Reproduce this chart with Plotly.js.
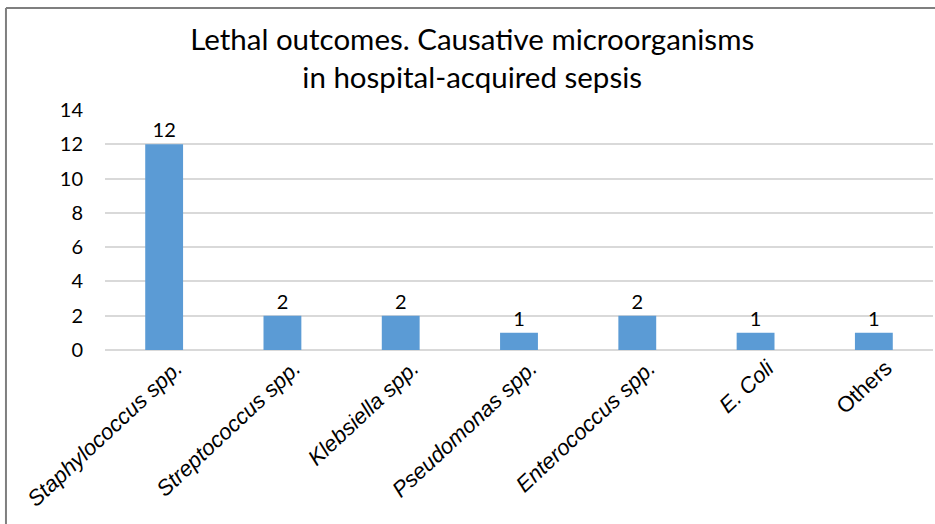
<!DOCTYPE html>
<html>
<head>
<meta charset="utf-8">
<script src="https://cdn.plot.ly/plotly-3.0.1.min.js"></script>
<style>html,body{margin:0;padding:0;background:#fff;}#chart{width:935px;height:524px;}</style>
</head>
<body>
<div id="chart"></div>
<script>
const categories = ["Staphylococcus spp.", "Streptococcus spp.", "Klebsiella spp.", "Pseudomonas spp.", "Enterococcus spp.", "E. Coli", "Others"];
const tickLabels = ["<i>Staphylococcus spp.</i>", "<i>Streptococcus spp.</i>", "<i>Klebsiella spp.</i>", "<i>Pseudomonas spp.</i>", "<i>Enterococcus spp.</i>", "<i>E. Coli</i>", "Others"];
const deaths = [12, 2, 2, 1, 2, 1, 1];
const yTicks = [0, 2, 4, 6, 8, 10, 12, 14];

const trace = {
  type: "bar",
  x: categories,
  y: deaths,
  marker: {color: "#5B9BD5"},
  text: deaths.map(String),
  textposition: "outside",
  cliponaxis: false,
  textfont: {family: "Lato, 'Open Sans', sans-serif", size: 20, color: "#000"},
  hoverinfo: "none"
};

const layout = {
  width: 935, height: 524,
  margin: {l: 105, r: 2, t: 110, b: 174},
  paper_bgcolor: "#fff", plot_bgcolor: "#fff",
  bargap: 0.68,
  showlegend: false,
  title: {
    text: "Lethal outcomes. Causative microorganisms<br>in hospital-acquired sepsis",
    font: {family: "Lato, 'Open Sans', sans-serif", size: 29.5, color: "#000"},
    x: 0.505, xanchor: "center",
    y: 0.905, yanchor: "middle", yref: "container"
  },
  xaxis: {
    tickmode: "array", tickvals: categories, ticktext: tickLabels,
    tickangle: -43,
    tickfont: {family: "'Liberation Sans', Arial, sans-serif", size: 22, color: "#000"},
    ticklabelshift: 12,
    showline: false, showgrid: false, zeroline: false, ticks: ""
  },
  yaxis: {
    range: [0, 14],
    tickmode: "array", tickvals: yTicks,
    tickfont: {family: "Lato, 'Open Sans', sans-serif", size: 20, color: "#000"},
    gridcolor: "#d9d9d9", gridwidth: 2,
    zeroline: true, zerolinecolor: "#d9d9d9", zerolinewidth: 2,
    showline: false, ticks: "", ticklabelstandoff: 21
  },
  shapes: [
    {type: "line", xref: "paper", yref: "paper", x0: -0.1196, x1: -0.1196, y0: -0.8, y1: 1.425, line: {color: "#7f7f7f", width: 2}},
    {type: "line", xref: "paper", yref: "paper", x0: -0.1196, x1: 1.1, y0: 1.425, y1: 1.425, line: {color: "#7f7f7f", width: 2}}
  ]
};

Plotly.newPlot("chart", [trace], layout, {displayModeBar: false, staticPlot: true});
</script>
</body>
</html>
